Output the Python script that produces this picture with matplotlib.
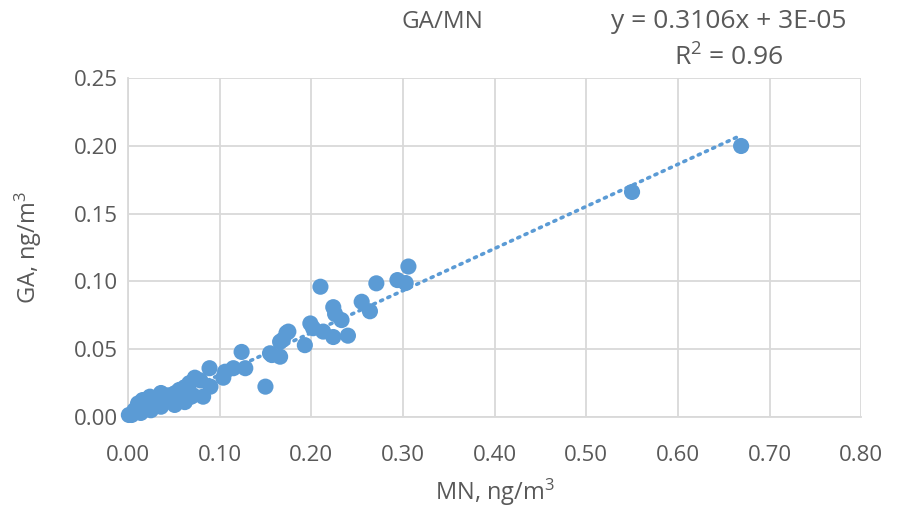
import matplotlib
matplotlib.use("Agg")
import matplotlib.pyplot as plt
import numpy as np

plt.rcParams['font.family'] = ['Open Sans', 'DejaVu Sans']
plt.rcParams['mathtext.fontset'] = 'custom'
plt.rcParams['mathtext.rm'] = 'Open Sans'
plt.rcParams['mathtext.default'] = 'regular'

# MN and GA concentrations (ng/m3)
mn = [0.004, 0.007, 0.011, 0.016, 0.024, 0.029, 0.036, 0.044, 0.051, 0.056,
      0.062, 0.067, 0.073, 0.014, 0.025, 0.036, 0.051, 0.062, 0.069,
      0.060, 0.064, 0.071, 0.079, 0.082, 0.090, 0.089, 0.104, 0.106, 0.115,
      0.128, 0.124, 0.150, 0.155, 0.157, 0.166, 0.166, 0.173, 0.175, 0.169,
      0.193, 0.199, 0.202, 0.213, 0.224, 0.240, 0.210, 0.224, 0.226, 0.233,
      0.255, 0.264, 0.271, 0.294, 0.303, 0.306, 0.550, 0.669, 0.001]
ga = [0.0015, 0.005, 0.010, 0.0125, 0.015, 0.014, 0.0177, 0.016, 0.0175, 0.020,
      0.022, 0.025, 0.029, 0.003, 0.005, 0.0076, 0.0089, 0.011, 0.015,
      0.015, 0.020, 0.016, 0.027, 0.015, 0.0224, 0.036, 0.029, 0.0334, 0.036,
      0.036, 0.048, 0.0224, 0.047, 0.0457, 0.0445, 0.0555, 0.062, 0.063, 0.057,
      0.053, 0.069, 0.0655, 0.063, 0.059, 0.060, 0.0961, 0.081, 0.076, 0.0715,
      0.085, 0.078, 0.0986, 0.101, 0.0988, 0.111, 0.166, 0.1999, 0.0015]

slope = 0.3106
intercept = 3e-05
r2 = 0.96

x_ticks = [0.0, 0.1, 0.2, 0.3, 0.4, 0.5, 0.6, 0.7, 0.8]
y_ticks = [0.0, 0.05, 0.10, 0.15, 0.20, 0.25]

blue = '#5B9BD5'
text_grey = '#595959'
grid_grey = '#D9D9D9'

fig = plt.figure(figsize=(8.98, 5.17), dpi=100)
ax = fig.add_axes([0.1425, 0.1934, 0.8165, 0.6556])

ax.scatter(mn, ga, s=135, color=blue, edgecolors='none', zorder=3, clip_on=False)

xline = np.array([0.0, max(mn)])
ax.plot(xline, slope * xline + intercept, linestyle=(0, (0.6, 1.6)),
        dash_capstyle='round', color=blue, linewidth=2.6, zorder=2)

ax.set_xlim(0, 0.8)
ax.set_ylim(0, 0.25)
ax.set_xticks(x_ticks)
ax.set_yticks(y_ticks)
ax.set_xticklabels([f"{v:.2f}" for v in x_ticks])
ax.set_yticklabels([f"{v:.2f}" for v in y_ticks])
ax.tick_params(length=0, labelsize=16, colors=text_grey)
ax.tick_params(axis='x', pad=20)
ax.tick_params(axis='y', pad=7)
ax.grid(True, color=grid_grey, linewidth=1.3)
ax.set_axisbelow(True)
for side in ['top', 'right']:
    ax.spines[side].set_visible(False)
for side in ['left', 'bottom']:
    ax.spines[side].set_color(grid_grey)
    ax.spines[side].set_linewidth(1.3)

ax.set_xlabel('MN, ng/m$^{3}$', fontsize=17, color=text_grey, labelpad=8)
ax.set_ylabel('GA, ng/m$^{3}$', fontsize=17, color=text_grey, labelpad=22)

fig.text(0.493, 0.957, 'GA/MN', ha='center', va='center', fontsize=17.5, color=text_grey)
fig.text(0.811, 0.958, f'y = {slope}x + 3E-05', ha='center', va='center',
         fontsize=19, color=text_grey)
fig.text(0.811, 0.888, f'R$^{{2}}$ = {r2}', ha='center', va='center',
         fontsize=19, color=text_grey)

fig.savefig('out.png', dpi=100)
